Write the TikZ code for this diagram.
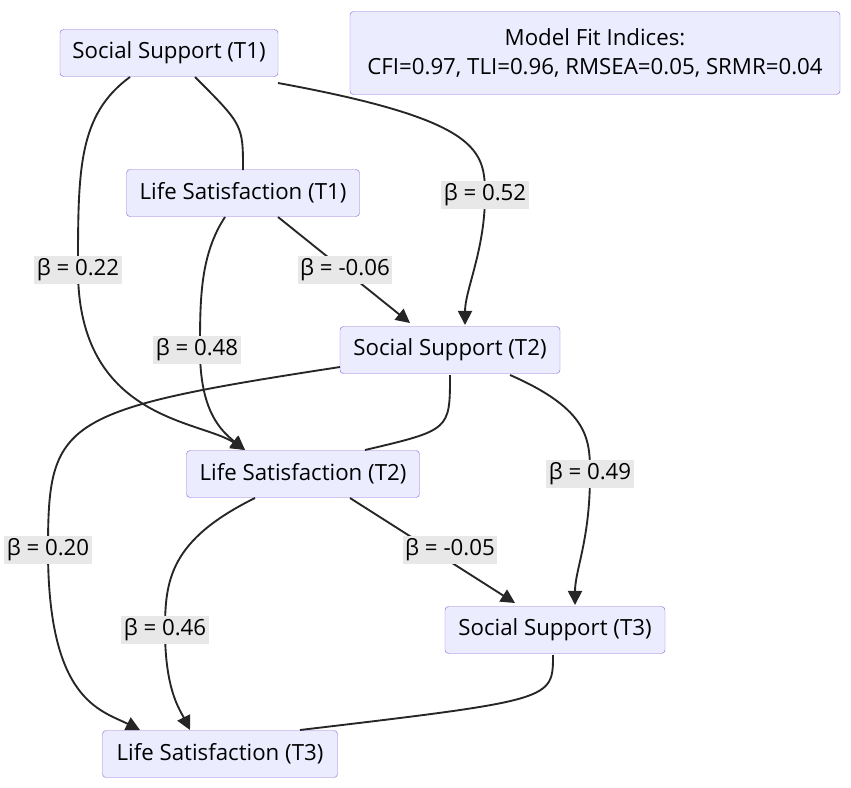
\documentclass[tikz,border=0pt]{standalone}
\usepackage{fontspec}
\setmainfont{Open Sans}
\usetikzlibrary{arrows.meta}
\definecolor{boxfill}{HTML}{ECECFF}
\definecolor{boxline}{HTML}{9370DB}
\definecolor{lblfill}{HTML}{E8E8E8}
\tikzset{
  % construct box
  cnode/.style = {
    draw = boxline,
    fill = boxfill,
    rounded corners = 3pt,
    inner sep = 0pt,
    minimum height = 47*0.03cm,
    font = \fontsize{19}{25}\selectfont
  },
  % path label
  blab/.style = {
    fill = lblfill,
    inner sep = 2pt,
    font = \fontsize{19}{25}\selectfont
  },
  link/.style = {
    draw = black!85,
    line width = 1.6pt
  },
  arr/.style = {
    link,
    -{Triangle[length=12pt,width=12pt]}
  }
}
\begin{document}
\begin{tikzpicture}[x=0.03cm, y=-0.03cm]
  \useasboundingbox (0,0) rectangle (851,787);

  \node[cnode, minimum width=218*0.03cm] (ss1) at (169,53) {Social Support (T1)};
  \node[cnode, minimum width=490*0.03cm, minimum height=83*0.03cm, align=center] (fit) at (595,53)
    {Model Fit Indices:\\CFI=0.97, TLI=0.96, RMSEA=0.05, SRMR=0.04};
  \node[cnode, minimum width=233*0.03cm] (ls1) at (243,193) {Life Satisfaction (T1)};
  \node[cnode, minimum width=220*0.03cm] (ss2) at (450,350) {Social Support (T2)};
  \node[cnode, minimum width=233*0.03cm] (ls2) at (303,474) {Life Satisfaction (T2)};
  \node[cnode, minimum width=220*0.03cm] (ss3) at (555,630) {Social Support (T3)};
  \node[cnode, minimum width=235*0.03cm] (ls3) at (220,754) {Life Satisfaction (T3)};

  % plain links
  \draw[link] (195,77) .. controls (243,125) .. (243,170);
  \draw[link] (450,375) .. controls (450,430) .. (365,450);
  \draw[link] (553,655) .. controls (553,700) .. (300,730);

  % T1 -> T2
  \draw[arr] (130,77) .. controls (78,115) and (78,170) .. (78,270)
    .. controls (78,420) and (200,420) .. (245,450);
  \draw[arr] (278,83) .. controls (480,120) and (485,150) .. (485,195)
    .. controls (485,250) and (465,290) .. (465,325);
  \draw[arr] (278,217) -- (410,323);
  \draw[arr] (225,217) .. controls (200,255) and (200,300) .. (200,350)
    .. controls (200,410) and (220,430) .. (245,450);

  % T2 -> T3
  \draw[arr] (340,367) .. controls (60,410) and (48,420) .. (48,550)
    .. controls (48,700) and (100,710) .. (140,730);
  \draw[arr] (510,375) .. controls (590,410) and (590,440) .. (590,475)
    .. controls (590,540) and (575,570) .. (575,605);
  \draw[arr] (350,498) -- (515,603);
  \draw[arr] (255,498) .. controls (170,540) and (165,580) .. (165,630)
    .. controls (165,690) and (180,710) .. (190,730);

  % labels
  \node[blab] (l1) at (78,270) {β = 0.22};
  \node[blab] (l2) at (485,195) {β = 0.52};
  \node[blab] (l3) at (345,270) {β = -0.06};
  \node[blab] (l4) at (197,350) {β = 0.48};
  \node[blab] (l5) at (48,550) {β = 0.20};
  \node[blab] (l6) at (590,474) {β = 0.49};
  \node[blab] (l7) at (450,550) {β = -0.05};
  \node[blab] (l8) at (165,630) {β = 0.46};
\end{tikzpicture}
\end{document}
